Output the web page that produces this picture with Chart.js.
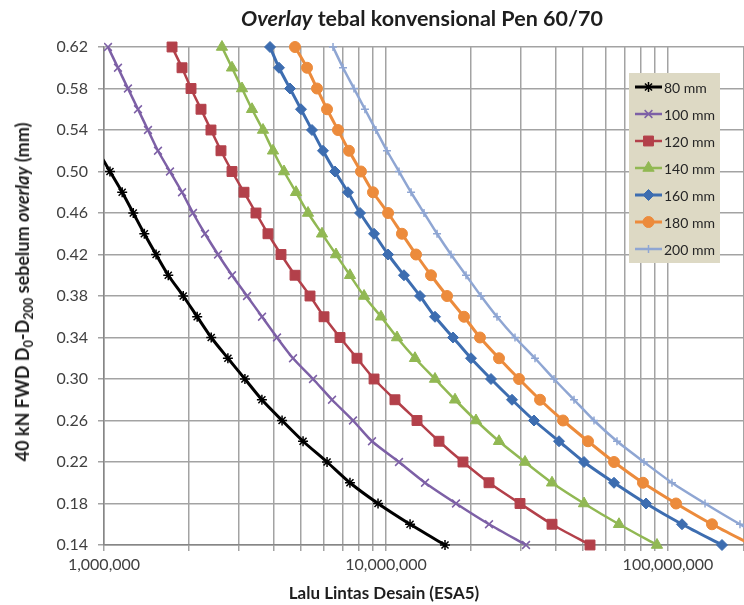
<!DOCTYPE html>
<html>
<head>
<meta charset="utf-8">
<script src="https://cdn.jsdelivr.net/npm/chart.js@4"></script>
<style>
body{margin:0;background:#fff}
#wrap{position:relative;width:744px;height:605px;font-family:Lato,"Liberation Sans",sans-serif;color:#1e1e1e}
canvas{position:absolute;left:0;top:0}
.t{position:absolute;white-space:nowrap;font-weight:bold}
#title{left:422px;top:18px;transform:translate(-50%,-50%);font-size:21.5px}
#ytitle{left:22px;top:292px;transform:translate(-50%,-50%) rotate(-90deg);font-size:18px}
#xtitle{left:384px;top:592px;transform:translate(-50%,-50%);font-size:17px}
sub{font-size:0.7em;vertical-align:-0.3em;line-height:0}
</style>
</head>
<body>
<div id="wrap">
  <canvas id="grafico" width="744" height="605"></canvas>
  <div class="t" id="title"><i>Overlay</i> tebal konvensional Pen 60/70</div>
  <div class="t" id="ytitle">40 kN FWD D<sub>0</sub>-D<sub>200</sub> sebelum <i>overlay</i> (mm)</div>
  <div class="t" id="xtitle">Lalu Lintas Desain (ESA5)</div>
</div>
<script>
// deflection levels (y) shared by every curve
const deflection = [0.62,0.60,0.58,0.56,0.54,0.52,0.50,0.48,0.46,0.44,0.42,0.40,0.38,0.36,0.34,0.32,0.30,0.28,0.26,0.24,0.22,0.20,0.18,0.16,0.14];

// ESA5 for each overlay thickness
const esa80  = [null,null,null,null,null,950000,1050000,1160000,1270000,1390000,1530000,1690000,1910000,2140000,2400000,2750000,3160000,3630000,4280000,5080000,6180000,7450000,9370000,12170000,16190000];
const esa100 = [1033000,1121000,1216000,1320000,1432000,1554000,1714000,1891000,2068000,2281000,2537000,2844000,3215000,3634000,4107000,4680000,5510000,6436000,7638000,8920000,11120000,13750000,17710000,23190000,31370000];
const esa120 = [1743000,1891000,2035000,2208000,2395000,2599000,2844000,3137000,3459000,3815000,4243000,4757000,5377000,6028000,6870000,7890000,9070000,10760000,12880000,15410000,18750000,23190000,29870000,38790000,52900000];
const esa140 = [2620000,2844000,3086000,3349000,3663000,3975000,4348000,4796000,5290000,5930000,6647000,7450000,8360000,9600000,10940000,12670000,14920000,17570000,20850000,25160000,31110000,38790000,50370000,67020000,91400000];
const esa160 = [3879000,4174000,4566000,4995000,5465000,5978000,6594000,7330000,8090000,9070000,10170000,11580000,13200000,14920000,17290000,20020000,23570000,27980000,33480000,41070000,50370000,64360000,83600000,112100000,155400000];
const esa180 = [4757000,5247000,5692000,6178000,6757000,7390000,8150000,8990000,10170000,11390000,12780000,14440000,16460000,18910000,21540000,25160000,29630000,35170000,42430000,52040000,64360000,81500000,106800000,143200000,198600000];
const esa200 = [6488000,7040000,7700000,8420000,9210000,10080000,11120000,12270000,13640000,15170000,17000000,19220000,21720000,24750000,28670000,33760000,39420000,46420000,54650000,65940000,82200000,103300000,135300000,180000000,245500000];

const xGrid = [1e6,2e6,3e6,4e6,5e6,6e6,7e6,8e6,9e6,1e7,2e7,3e7,4e7,5e7,6e7,7e7,8e7,9e7,1e8];
const xLabels = [1e6,1e7,1e8];
const xMax = 1.86e8;
const yTicks = [0.14,0.18,0.22,0.26,0.30,0.34,0.38,0.42,0.46,0.50,0.54,0.58,0.62];

function toPoints(values) {
    let pts = [];
    values.forEach((v, i) => { if (v !== null) pts.push({x: v, y: deflection[i]}); });
    return pts;
}

function curve(label, values, color, style, radius, width) {
    return {
        label: label,
        data: toPoints(values),
        borderColor: color,
        backgroundColor: color,
        borderWidth: width,
        pointStyle: style,
        pointRadius: radius,
        pointBorderColor: color,
        pointBackgroundColor: color,
        pointBorderWidth: style === 'star' || style === 'crossRot' || style === 'cross' ? 1.5 : 1,
        tension: 0.25,
        clip: {left: 0, top: 8, right: 0, bottom: 8}
    };
}

// legend box drawn inside the plot, like the Excel one
const legendBox = {
    id: 'legendBox',
    afterDatasetsDraw(chart) {
        const c = chart.ctx;
        c.save();
        c.fillStyle = '#ddd9c4';
        c.fillRect(629, 73, 91, 190);
        chart.data.datasets.forEach((ds, i) => {
            const y = 87 + i * 27;
            c.strokeStyle = ds.borderColor;
            c.lineWidth = ds.borderWidth;
            c.beginPath();
            c.moveTo(635, y);
            c.lineTo(662, y);
            c.stroke();
            if (Chart.helpers && Chart.helpers.drawPoint) {
                c.fillStyle = ds.pointBackgroundColor;
                c.strokeStyle = ds.pointBorderColor;
                c.lineWidth = ds.pointBorderWidth;
                Chart.helpers.drawPoint(c, {pointStyle: ds.pointStyle, radius: ds.pointRadius, rotation: 0, borderWidth: ds.pointBorderWidth}, 648.5, y);
            }
            c.fillStyle = '#262626';
            c.font = '14px Lato, "Liberation Sans", sans-serif';
            c.textBaseline = 'middle';
            c.fillText(ds.label, 664, y + 1);
        });
        c.restore();
    }
};

new Chart("grafico", {
    type: "line",
    data: {
        datasets: [
            curve('80 mm', esa80, '#000000', 'star', 5, 3),
            curve('100 mm', esa100, '#7d60a6', 'crossRot', 5.5, 2.5),
            curve('120 mm', esa120, '#b3404a', 'rect', 7, 2.5),
            curve('140 mm', esa140, '#91b853', 'triangle', 6.5, 2.5),
            curve('160 mm', esa160, '#3d6db0', 'rectRot', 5.5, 3),
            curve('180 mm', esa180, '#ec8b3c', 'circle', 5.5, 3),
            curve('200 mm', esa200, '#8fa6d3', 'cross', 4, 2.5)
        ]
    },
    options: {
        responsive: false,
        animation: false,
        devicePixelRatio: 1,
        layout: {autoPadding: false, padding: {top: 47, right: 0, left: 0, bottom: 0}},
        plugins: {legend: {display: false}, tooltip: {enabled: false}},
        scales: {
            x: {
                type: 'logarithmic',
                min: 1e6,
                max: xMax,
                afterBuildTicks: s => { s.ticks = xGrid.concat([xMax]).map(v => ({value: v})); },
                afterFit: s => { s.height = 60; s.paddingRight = 0; },
                ticks: {
                    autoSkip: false, maxRotation: 0, padding: 4, color: '#404040',
                    font: {family: 'Lato', size: 16},
                    callback: v => xLabels.includes(v) ? v.toLocaleString('en-US') : ''
                },
                grid: {color: '#a3a3a3', lineWidth: 1.5, tickLength: 6},
                border: {color: '#868686', width: 1.5}
            },
            y: {
                min: 0.14,
                max: 0.62,
                afterBuildTicks: s => { s.ticks = yTicks.map(v => ({value: v})); },
                afterFit: s => { s.width = 104; },
                ticks: {
                    padding: 10, color: '#404040',
                    font: {family: 'Lato', size: 16},
                    callback: v => v.toFixed(2)
                },
                grid: {color: '#a3a3a3', lineWidth: 1.5, tickLength: 6},
                border: {color: '#868686', width: 1.5}
            }
        }
    },
    plugins: [legendBox]
});
</script>
</body>
</html>
